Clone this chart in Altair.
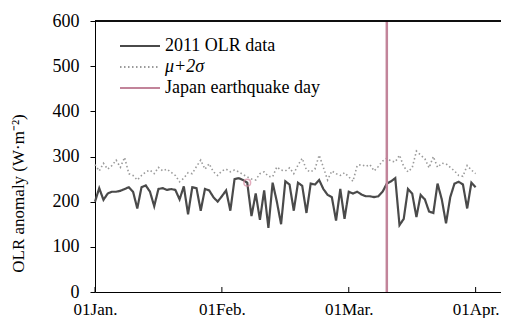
import altair as alt
import pandas as pd

DAYS = list(range(91))
OLR_2011 = [
    200, 230, 204, 218, 222, 222, 224, 228, 232, 222,
    185, 232, 236, 222, 190, 228, 230, 226, 228, 226,
    205, 234, 172, 232, 230, 180, 228, 225, 210, 200,
    212, 225, 180, 250, 252, 248, 242, 168, 218, 160,
    225, 142, 242, 200, 150, 245, 238, 180, 242, 235,
    175, 240, 238, 248, 228, 215, 210, 158, 228, 162,
    222, 218, 222, 216, 212, 212, 210, 212, 222, 240,
    245, 252, 148, 162, 228, 218, 166, 215, 205, 178,
    175, 240, 205, 152, 210, 240, 244, 238, 185, 242,
    232,
]
MU_2SIGMA = [
    282, 268, 285, 272, 280, 292, 276, 298, 262, 258,
    248, 258, 266, 270, 262, 276, 268, 272, 265, 258,
    244, 252, 264, 262, 278, 292, 272, 284, 266, 258,
    268, 272, 266, 270, 266, 260, 255, 250, 248, 262,
    266, 256, 255, 277, 270, 268, 275, 262, 281, 296,
    270, 266, 272, 303, 276, 248, 268, 262, 258, 264,
    255, 245, 280, 282, 278, 282, 268, 278, 290, 296,
    290, 288, 303, 278, 266, 275, 312, 303, 295, 275,
    300, 276, 285, 284, 276, 268, 258, 256, 280, 270,
    262,
]
SERIES_NAMES = ["2011 OLR data", "μ+2σ", "Japan earthquake day"]
SERIES_COLORS = ["#4a4a4a", "#9a9a9a", "#c2849a"]
SERIES_DASHES = [[1, 0], [1.5, 2.5], [1, 0]]
QUAKE_DAY = [69]
MARK_DAY = [36]
XTICK_POS = [0, 30, 60, 90]
XTICK_LABELS = ["01Jan.", "01Feb.", "01Mar.", "01Apr."]
YTICKS = [0, 100, 200, 300, 400, 500, 600]

FONT = "Liberation Serif"
FS = 18

df_solid = pd.DataFrame({"day": DAYS, "value": OLR_2011, "series": SERIES_NAMES[0]})
df_dot = pd.DataFrame({"day": DAYS, "value": MU_2SIGMA, "series": SERIES_NAMES[1]})
df_quake = pd.DataFrame({"day": QUAKE_DAY, "series": SERIES_NAMES[2]})
df_mark = pd.DataFrame({"day": MARK_DAY, "value": [OLR_2011[d] for d in MARK_DAY]})
df_ticks = pd.DataFrame({"pos": XTICK_POS})

label_expr = "''"
for p, l in reversed(list(zip(XTICK_POS, XTICK_LABELS))):
    label_expr = f"datum.value == {p} ? '{l}' : ({label_expr})"

x_scale = alt.Scale(domain=[0, 96], nice=False, zero=False)
y_scale = alt.Scale(domain=[0, 600], nice=False)

x_enc = alt.X("day:Q", scale=x_scale,
              axis=alt.Axis(values=XTICK_POS, labelExpr=label_expr, ticks=False,
                            domainColor="black", labelFont=FONT, labelFontSize=17,
                            labelColor="black", labelPadding=9, grid=False,
                            labelFlush=False, title=None))
y_enc = alt.Y("value:Q", scale=y_scale,
              axis=alt.Axis(values=YTICKS, tickSize=5, tickColor="black",
                            domainColor="black", labelFont=FONT, labelFontSize=FS,
                            labelColor="black", labelPadding=11, grid=False,
                            title="OLR anomaly (W·m⁻²)", titleFont=FONT,
                            titleFontSize=17, titleFontWeight="normal",
                            titleColor="black", titlePadding=25, titleY=172))

legend_kw = dict(title=None, orient="none", legendX=34, legendY=14,
                 symbolType="M-2,0H2", symbolSize=400, symbolStrokeWidth=2,
                 labelFont=FONT, labelFontSize=FS, labelColor="black",
                 labelOffset=14, rowPadding=1, padding=0,
                 labelFontStyle={"expr": f"datum.label == '{SERIES_NAMES[1]}' ? 'italic' : 'normal'"})

color_enc = alt.Color("series:N",
                      scale=alt.Scale(domain=SERIES_NAMES, range=SERIES_COLORS),
                      legend=alt.Legend(**legend_kw))
dash_enc = alt.StrokeDash("series:N",
                          scale=alt.Scale(domain=SERIES_NAMES, range=SERIES_DASHES),
                          legend=alt.Legend(**legend_kw))

dotted = alt.Chart(df_dot).mark_line(strokeWidth=1.6).encode(
    x=x_enc, y=y_enc, color=color_enc, strokeDash=dash_enc)
solid = alt.Chart(df_solid).mark_line(strokeWidth=2.2).encode(
    x=x_enc, y=y_enc, color=color_enc, strokeDash=dash_enc)
quake = alt.Chart(df_quake).mark_rule(strokeWidth=2.5).encode(
    x="day:Q", color=color_enc, strokeDash=dash_enc)
marker = alt.Chart(df_mark).mark_point(shape="circle", filled=False, size=45,
                                       color="#d88aa2", strokeWidth=1.5).encode(
    x="day:Q", y="value:Q")
top = alt.Chart(df_ticks).mark_rule(color="black", strokeWidth=1).encode(y=alt.datum(600))
xticks = alt.Chart(df_ticks).mark_rule(color="black", strokeWidth=1).encode(
    x="pos:Q", y=alt.value(271), y2=alt.value(266))

chart = alt.layer(dotted, solid, quake, marker, top, xticks).properties(
    width=406, height=271,
    autosize=alt.AutoSizeParams(type="none"),
    padding={"left": 87, "top": 13, "right": 0, "bottom": 26},
).configure(font=FONT).configure_view(strokeWidth=0)

chart.save("out.html", embed_options={"renderer": "svg", "actions": False})
